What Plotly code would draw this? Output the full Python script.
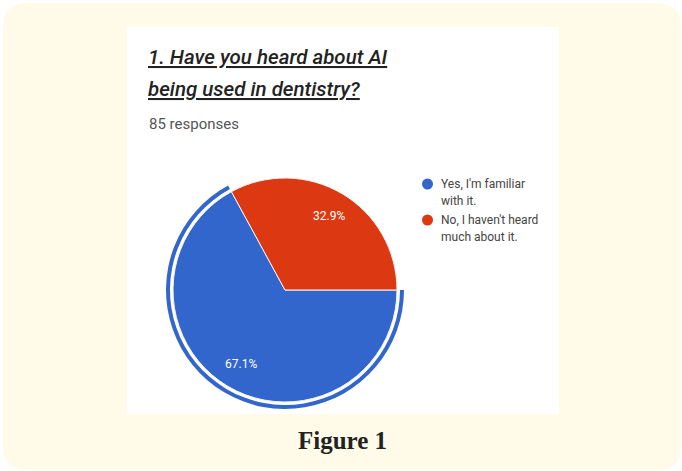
import math
import plotly.graph_objects as go

W, H = 682, 471

# ---- data ----
labels = ["Yes, I'm familiar with it.", "No, I haven't heard much about it."]
legend_lines = [["Yes, I'm familiar", "with it."], ["No, I haven't heard", "much about it."]]
counts = [57, 28]
colors = ["#3366CC", "#DC3912"]
title_lines = ["1. Have you heard about AI", "being used in dentistry?"]
subtitle = "85 responses"
caption = "Figure 1"

def px(x):
    return x / W

def py(y):
    return 1 - y / H

# pie geometry (pixels)
cx, cy, r = 285, 290, 112
ring_in, ring_out = 115, 119

fig = go.Figure()

fig.add_trace(go.Pie(
    labels=labels, values=counts, sort=False, direction="clockwise", rotation=90,
    marker=dict(colors=colors, line=dict(color="#F4F4F4", width=1)),
    textinfo="none",
    domain=dict(x=[px(cx - r), px(cx + r)], y=[py(cy + r), py(cy - r)]),
    showlegend=False, hoverinfo="skip",
))

# highlight ring around first slice
fig.add_trace(go.Pie(
    labels=labels, values=counts, sort=False, direction="clockwise", rotation=90,
    hole=ring_in / ring_out,
    marker=dict(colors=[colors[0], "rgba(0,0,0,0)"], line=dict(width=0)),
    textinfo="none",
    domain=dict(x=[px(cx - ring_out), px(cx + ring_out)], y=[py(cy + ring_out), py(cy - ring_out)]),
    showlegend=False, hoverinfo="skip",
))

shapes = []
# cream rounded background
x0, y0, x1, y1, rr = 3, 3, 681, 470, 24
path = (f"M {px(x0+rr)},{py(y0)} L {px(x1-rr)},{py(y0)} Q {px(x1)},{py(y0)} {px(x1)},{py(y0+rr)} "
        f"L {px(x1)},{py(y1-rr)} Q {px(x1)},{py(y1)} {px(x1-rr)},{py(y1)} "
        f"L {px(x0+rr)},{py(y1)} Q {px(x0)},{py(y1)} {px(x0)},{py(y1-rr)} "
        f"L {px(x0)},{py(y0+rr)} Q {px(x0)},{py(y0)} {px(x0+rr)},{py(y0)} Z")
shapes.append(dict(type="path", path=path, xref="paper", yref="paper",
                   fillcolor="#FFFBE8", line=dict(width=0), layer="below"))
# white panel
shapes.append(dict(type="rect", xref="paper", yref="paper",
                   x0=px(127), x1=px(559), y0=py(414), y1=py(27),
                   fillcolor="#FFFFFF", line=dict(width=0), layer="below"))

annotations = []

# slice percentage labels, placed along each slice's mid-angle
total = sum(counts)
start = 0.0  # degrees, math convention (east), clockwise direction
for v in counts:
    frac = v / total
    mid = start - frac * 360 / 2
    start -= frac * 360
    rad = math.radians(mid)
    lx = cx + 0.77 * r * math.cos(rad)
    ly = cy - 0.77 * r * math.sin(rad)
    annotations.append(dict(
        text=f"{frac * 100:.1f}%", x=px(lx), y=py(ly), xref="paper", yref="paper",
        xanchor="center", yanchor="middle", showarrow=False,
        font=dict(family="Roboto", size=12, color="#FFFFFF")))

for i, t in enumerate(title_lines):
    annotations.append(dict(
        text=f"<i><u>{t}</u></i>", x=px(146), y=py(57 + 32 * i), xref="paper", yref="paper",
        xanchor="left", yanchor="middle", showarrow=False,
        font=dict(family="Roboto", size=20.5, color="#222222", weight=500)))
annotations.append(dict(
    text=subtitle, x=px(147), y=py(124), xref="paper", yref="paper",
    xanchor="left", yanchor="middle", showarrow=False,
    font=dict(family="Roboto", size=15, color="#555555")))

# custom legend
for i, (lines, col) in enumerate(zip(legend_lines, colors)):
    ly = 184 + 36 * i
    shapes.append(dict(type="circle", xref="paper", yref="paper",
                       x0=px(422), x1=px(433), y0=py(ly + 5.5), y1=py(ly - 5.5),
                       fillcolor=col, line=dict(width=0)))
    for j, ln in enumerate(lines):
        annotations.append(dict(
            text=ln, x=px(439), y=py(ly + 17 * j), xref="paper", yref="paper",
            xanchor="left", yanchor="middle", showarrow=False,
            font=dict(family="Roboto", size=12, color="#444444")))

annotations.append(dict(
    text=f"<b>{caption}</b>", x=px(342), y=py(440), xref="paper", yref="paper",
    xanchor="center", yanchor="middle", showarrow=False,
    font=dict(family="Liberation Serif", size=25, color="#222222")))

fig.update_layout(
    width=W, height=H, margin=dict(l=0, r=0, t=0, b=0),
    paper_bgcolor="#FFFFFF", plot_bgcolor="#FFFFFF",
    shapes=shapes, annotations=annotations, showlegend=False,
)

fig.write_html("out.html", config={"displayModeBar": False})
